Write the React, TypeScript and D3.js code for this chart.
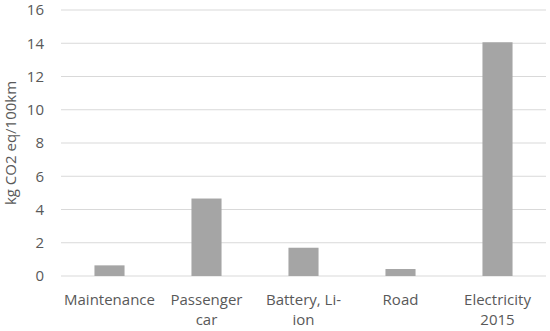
import React, { useEffect, useRef } from 'react';
import * as d3 from 'd3';

const categories = ['Maintenance', 'Passenger car', 'Battery, Li-ion', 'Road', 'Electricity 2015'];
const categoryLines = [['Maintenance'], ['Passenger', 'car'], ['Battery, Li-', 'ion'], ['Road'], ['Electricity', '2015']];
const values = [0.64, 4.66, 1.7, 0.42, 14.06];
const yTicks = [0, 2, 4, 6, 8, 10, 12, 14, 16];
const yTitle = 'kg CO2 eq/100km';

const App = () => {
  const svgRef = useRef<SVGSVGElement>(null);

  useEffect(() => {
    const width = 550,
      height = 331;
    const margin = { top: 10, right: 4, bottom: 55, left: 61 };

    const svg = d3.select(svgRef.current);
    svg.selectAll('*').remove();
    svg.attr('width', width).attr('height', height);

    const font = "'Open Sans', sans-serif";

    const x = d3
      .scaleBand()
      .domain(categories)
      .range([margin.left, width - margin.right])
      .paddingInner(0.69)
      .paddingOuter(0.345);

    const y = d3
      .scaleLinear()
      .domain([0, 16])
      .range([height - margin.bottom, margin.top]);

    // gridlines
    svg
      .append('g')
      .selectAll('line')
      .data(yTicks)
      .join('line')
      .attr('x1', margin.left)
      .attr('x2', width - margin.right)
      .attr('y1', (d) => y(d))
      .attr('y2', (d) => y(d))
      .attr('stroke', '#d9d9d9')
      .attr('stroke-width', 1);

    // y tick labels
    svg
      .append('g')
      .selectAll('text')
      .data(yTicks)
      .join('text')
      .attr('x', 44)
      .attr('y', (d) => y(d))
      .attr('dy', '0.35em')
      .attr('text-anchor', 'end')
      .attr('font-family', font)
      .attr('font-size', 15)
      .attr('fill', '#595959')
      .text((d) => d);

    // bars
    svg
      .append('g')
      .selectAll('rect')
      .data(values)
      .join('rect')
      .attr('x', (d, i) => x(categories[i]) as number)
      .attr('width', x.bandwidth())
      .attr('y', (d) => y(d))
      .attr('height', (d) => y(0) - y(d))
      .attr('fill', '#a5a5a5');

    // x labels
    const xl = svg
      .append('g')
      .selectAll('text')
      .data(categoryLines)
      .join('text')
      .attr('text-anchor', 'middle')
      .attr('font-family', font)
      .attr('font-size', 15)
      .attr('fill', '#595959');
    xl.each(function (lines, i) {
      const cx = (x(categories[i]) as number) + x.bandwidth() / 2;
      d3.select(this)
        .selectAll('tspan')
        .data(lines)
        .join('tspan')
        .attr('x', cx)
        .attr('y', (d, j) => 300 + j * 20)
        .attr('dy', '0.35em')
        .text((d) => d);
    });

    // y title
    svg
      .append('text')
      .attr('transform', `translate(16,${y(8)}) rotate(-90)`)
      .attr('text-anchor', 'middle')
      .attr('font-family', font)
      .attr('font-size', 15)
      .attr('fill', '#595959')
      .text(yTitle);
  }, []);

  return <svg ref={svgRef} style={{ position: 'absolute', left: 0, top: 0 }}></svg>;
};

export default App;
